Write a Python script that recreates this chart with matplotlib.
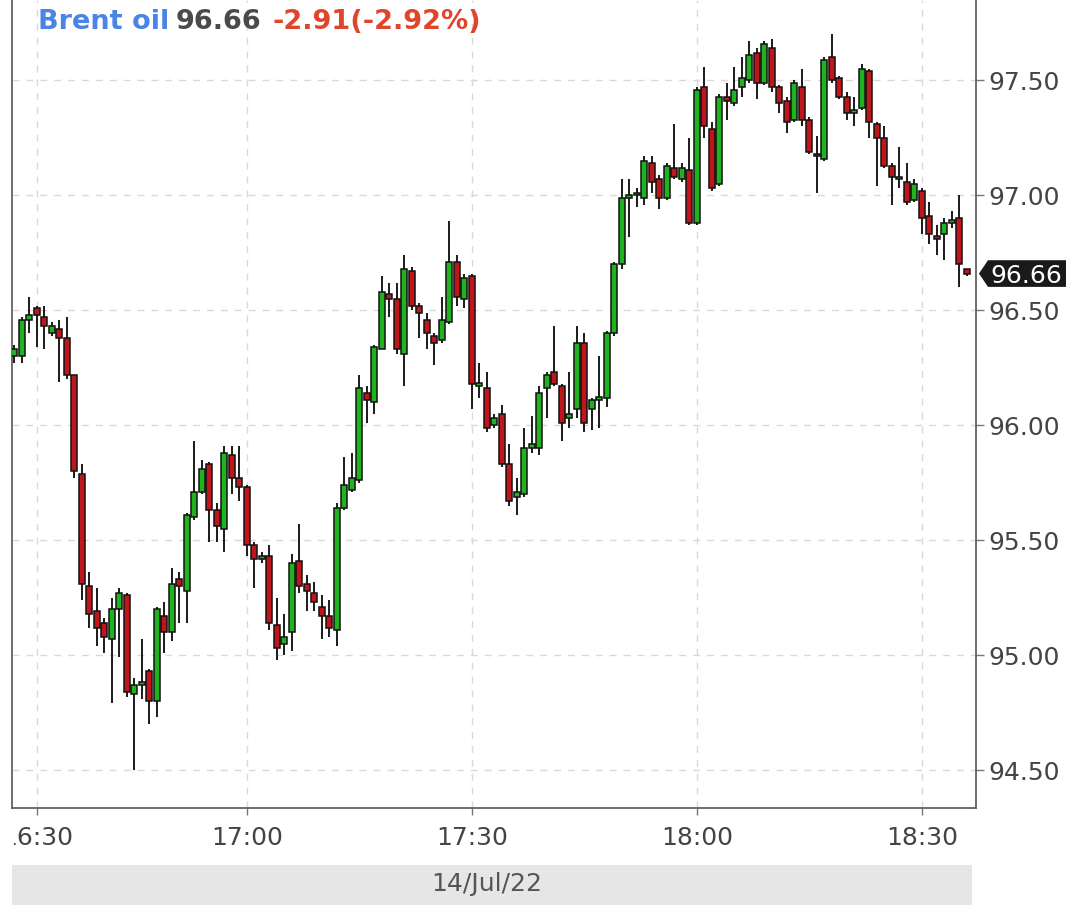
import matplotlib
matplotlib.use("Agg")
import matplotlib.pyplot as plt
import matplotlib.dates as mdates
import matplotlib.transforms as mtransforms
from matplotlib.patches import Polygon, Rectangle
import numpy as np
import pandas as pd

plt.rcParams["font.family"] = ["DejaVu Sans"]

# ---------------- data ----------------
start_time = "2022-07-14 16:29"
opens = [96.30, 96.30, 96.46, 96.51, 96.47, 96.40, 96.42, 96.38, 96.22, 95.79,
         95.30, 95.19, 95.14, 95.07, 95.20, 95.26, 94.83, 94.87, 94.93, 94.80,
         95.17, 95.10, 95.33, 95.28, 95.60, 95.71, 95.83, 95.63, 95.55, 95.87,
         95.77, 95.73, 95.48, 95.42, 95.43, 95.13, 95.05, 95.10, 95.41, 95.31,
         95.27, 95.21, 95.17, 95.11, 95.64, 95.72, 95.76, 96.14, 96.10, 96.33,
         96.57, 96.55, 96.31, 96.67, 96.52, 96.46, 96.39, 96.37, 96.45, 96.71,
         96.55, 96.65, 96.17, 96.16, 96.00, 96.05, 95.83, 95.69, 95.70, 95.90,
         95.90, 96.16, 96.23, 96.17, 96.03, 96.07, 96.36, 96.07, 96.11, 96.12,
         96.40, 96.70, 96.99, 97.00, 96.99, 97.14, 97.07, 96.99, 97.12, 97.07,
         97.11, 96.88, 97.47, 97.29, 97.05, 97.43, 97.40, 97.47, 97.50, 97.62,
         97.49, 97.64, 97.47, 97.41, 97.33, 97.47, 97.33, 97.18, 97.16, 97.60,
         97.51, 97.43, 97.36, 97.38, 97.54, 97.31, 97.25, 97.13, 97.07, 97.06,
         96.98, 97.02, 96.91, 96.82, 96.83, 96.88, 96.90, 96.68]
highs = [96.35, 96.47, 96.56, 96.52, 96.52, 96.45, 96.46, 96.47, 96.22, 95.83,
         95.36, 95.29, 95.16, 95.25, 95.29, 95.27, 94.90, 95.07, 94.94, 95.21,
         95.23, 95.38, 95.36, 95.62, 95.93, 95.85, 95.84, 95.66, 95.91, 95.91,
         95.91, 95.74, 95.49, 95.45, 95.48, 95.25, 95.18, 95.44, 95.57, 95.35,
         95.32, 95.26, 95.24, 95.66, 95.86, 95.88, 96.22, 96.17, 96.35, 96.65,
         96.62, 96.62, 96.74, 96.69, 96.53, 96.49, 96.40, 96.56, 96.89, 96.74,
         96.66, 96.66, 96.27, 96.23, 96.05, 96.09, 95.92, 95.77, 95.99, 96.04,
         96.17, 96.23, 96.43, 96.18, 96.23, 96.43, 96.40, 96.12, 96.30, 96.41,
         96.71, 97.07, 97.07, 97.03, 97.17, 97.17, 97.09, 97.14, 97.31, 97.14,
         97.25, 97.47, 97.56, 97.32, 97.44, 97.49, 97.56, 97.60, 97.67, 97.64,
         97.67, 97.68, 97.48, 97.43, 97.50, 97.55, 97.34, 97.26, 97.60, 97.70,
         97.52, 97.45, 97.43, 97.57, 97.55, 97.32, 97.30, 97.14, 97.21, 97.14,
         97.07, 97.03, 96.97, 96.87, 96.90, 96.93, 97.00, 96.68]
lows = [96.27, 96.27, 96.40, 96.34, 96.33, 96.39, 96.19, 96.20, 95.77, 95.24,
        95.12, 95.04, 95.01, 94.79, 94.99, 94.82, 94.50, 94.81, 94.70, 94.73,
        95.01, 95.06, 95.14, 95.14, 95.59, 95.70, 95.49, 95.49, 95.45, 95.70,
        95.67, 95.43, 95.29, 95.40, 95.11, 94.98, 95.00, 95.02, 95.27, 95.19,
        95.19, 95.07, 95.08, 95.04, 95.63, 95.71, 95.75, 96.01, 96.05, 96.33,
        96.47, 96.31, 96.17, 96.50, 96.38, 96.33, 96.26, 96.36, 96.44, 96.52,
        96.51, 96.07, 96.12, 95.97, 95.99, 95.82, 95.65, 95.61, 95.69, 95.88,
        95.87, 96.03, 96.17, 95.93, 95.99, 96.03, 95.97, 95.98, 95.99, 96.08,
        96.39, 96.68, 96.82, 96.95, 96.96, 97.01, 96.94, 96.98, 97.07, 97.06,
        96.87, 96.87, 97.25, 97.02, 97.04, 97.33, 97.39, 97.43, 97.49, 97.42,
        97.48, 97.45, 97.36, 97.27, 97.32, 97.30, 97.18, 97.01, 97.15, 97.49,
        97.42, 97.33, 97.30, 97.37, 97.25, 97.04, 97.12, 96.96, 97.03, 96.96,
        96.97, 96.83, 96.79, 96.74, 96.72, 96.86, 96.60, 96.65]
closes = [96.33, 96.46, 96.48, 96.48, 96.43, 96.43, 96.38, 96.22, 95.80, 95.31,
          95.18, 95.12, 95.08, 95.20, 95.27, 94.84, 94.87, 94.88, 94.80, 95.20,
          95.10, 95.31, 95.30, 95.61, 95.71, 95.81, 95.63, 95.56, 95.88, 95.77,
          95.73, 95.48, 95.42, 95.43, 95.14, 95.03, 95.08, 95.40, 95.30, 95.28,
          95.23, 95.17, 95.12, 95.64, 95.74, 95.77, 96.16, 96.11, 96.34, 96.58,
          96.55, 96.33, 96.68, 96.52, 96.49, 96.40, 96.36, 96.46, 96.71, 96.56,
          96.64, 96.18, 96.17, 95.99, 96.03, 95.83, 95.67, 95.71, 95.90, 95.92,
          96.14, 96.22, 96.18, 96.01, 96.05, 96.36, 96.01, 96.11, 96.12, 96.40,
          96.70, 96.99, 97.00, 97.01, 97.15, 97.06, 96.99, 97.13, 97.08, 97.12,
          96.88, 97.46, 97.30, 97.03, 97.43, 97.41, 97.46, 97.51, 97.61, 97.49,
          97.66, 97.47, 97.40, 97.32, 97.49, 97.33, 97.19, 97.17, 97.59, 97.50,
          97.43, 97.36, 97.37, 97.55, 97.32, 97.25, 97.13, 97.08, 97.07, 96.97,
          97.05, 96.90, 96.83, 96.81, 96.88, 96.89, 96.70, 96.66]

times = pd.date_range(start_time, periods=len(opens), freq="min")
y_ticks = [94.50, 95.00, 95.50, 96.00, 96.50, 97.00, 97.50]
x_tick_labels = ["16:30", "17:00", "17:30", "18:00", "18:30"]
x_tick_times = ["16:32", "17:00", "17:30", "18:00", "18:30"]   # first label shifted inside the plot
instrument = "Brent oil"
last_price = "96.66"
change_text = "-2.91(-2.92%)"
date_label = "14/Jul/22"

# ---------------- figure ----------------
W, H = 1080, 913
fig = plt.figure(figsize=(W / 100, H / 100), dpi=100)
fig.patch.set_facecolor("white")
ax = fig.add_axes([12 / W, (H - 808) / H, (976 - 12) / W, 808 / H])

o = np.array(opens); h = np.array(highs); l = np.array(lows); c = np.array(closes)
xd = mdates.date2num(times)
up = c >= o
green = "#1fb41f"
red = "#c0161b"
colors = np.where(up, green, red)
bottoms = np.minimum(o, c)
heights = np.maximum(np.abs(c - o), 0.012)
width = 0.8 / 1440.0

ax.vlines(xd, l, h, color="#1a1a1a", lw=1.4, zorder=2)
ax.bar(xd, heights, bottom=bottoms, width=width, color=colors,
       edgecolor="#111111", linewidth=1.1, zorder=3)

x17 = mdates.date2num(pd.Timestamp("2022-07-14 17:00"))
ax.set_xlim(x17 - 31.33 / 1440, x17 + 97.2 / 1440)
ax.set_ylim(94.335, 97.85)

tick_pos = [mdates.date2num(pd.Timestamp("2022-07-14 " + t)) for t in x_tick_times]
ax.set_xticks(tick_pos)
ax.set_xticklabels(x_tick_labels)
ax.set_yticks(y_ticks)
ax.set_yticklabels([f"{v:.2f}" for v in y_ticks])
ax.yaxis.tick_right()

ax.grid(True, color="#d9d9d9", linestyle=(0, (5, 5)), linewidth=1.0, zorder=0)
ax.set_axisbelow(True)

for s in ["left", "right", "bottom"]:
    ax.spines[s].set_color("#555555")
    ax.spines[s].set_linewidth(1.2)
ax.spines["top"].set_visible(False)

ax.tick_params(axis="y", which="both", length=6, width=1, color="#777777",
               labelsize=18, labelcolor="#444444", pad=3, direction="out")
ax.tick_params(axis="x", which="both", length=5, width=1, color="#777777",
               labelsize=18, labelcolor="#444444", pad=8, direction="out")

# clip first x tick label at the left edge like the reference
clip_bbox = mtransforms.Bbox.from_extents(14, 0, W, H)
for lab in ax.get_xticklabels():
    lab.set_clip_box(mtransforms.TransformedBbox(clip_bbox, mtransforms.IdentityTransform()))
    lab.set_clip_on(True)

# last price tag
trans = mtransforms.blended_transform_factory(fig.transFigure, ax.transData)
lp = closes[-1]
hh = 0.058
tag = Polygon([(979 / W, lp), (988 / W, lp + hh), (1066 / W, lp + hh),
               (1066 / W, lp - hh), (988 / W, lp - hh)], closed=True,
              transform=trans, facecolor="#1a1a1a", edgecolor="none",
              clip_on=False, zorder=10)
fig.patches.append(tag)
fig.text(1026 / W, lp, last_price, color="white", fontsize=18, ha="center",
         va="center_baseline", transform=trans, zorder=11)

# legend / title text
ty = 1 - 22 / H
fig.text(38 / W, ty, instrument, color="#4a84e6", fontsize=19.5,
         fontweight="bold", ha="left", va="center")
fig.text(176 / W, ty, last_price, color="#4a4a4a", fontsize=19.5,
         fontweight="bold", ha="left", va="center")
fig.text(272 / W, ty, change_text, color="#e0452b", fontsize=19.5,
         fontweight="bold", ha="left", va="center")

# date band
band = Rectangle((12 / W, (H - 905) / H), (972 - 12) / W, 40 / H,
                 transform=fig.transFigure, facecolor="#e6e6e6",
                 edgecolor="none", zorder=0)
fig.patches.append(band)
fig.text(487 / W, (H - 884) / H, date_label, color="#555555", fontsize=18,
         ha="center", va="center")

fig.savefig("out.png", dpi=100, facecolor="white")
